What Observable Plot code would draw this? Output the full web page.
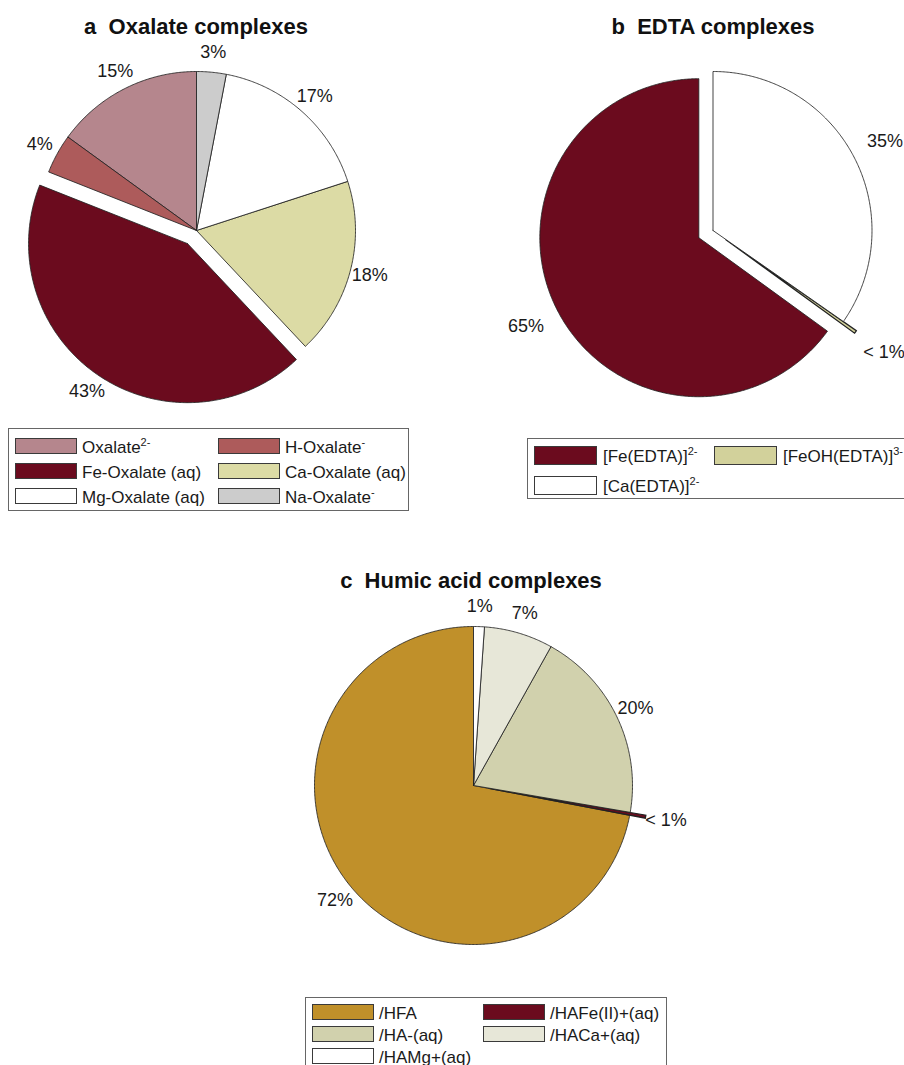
<!DOCTYPE html>
<html>
<head>
<meta charset="utf-8">
<script src="https://cdn.jsdelivr.net/npm/d3@7"></script>
<script src="https://cdn.jsdelivr.net/npm/@observablehq/plot@0.6"></script>
<style>
html, body { margin: 0; padding: 0; background: #fff; overflow: hidden; }
#page { position: relative; width: 904px; height: 1065px; overflow: hidden; background: #fff;
  font-family: "Liberation Sans", Arial, Helvetica, sans-serif; color: #1a1a1a; }
.title { position: absolute; font-weight: bold; font-size: 22px; line-height: 24px; white-space: pre; transform: translateX(-50%); color: #111; }
.legend { position: absolute; border: 1px solid #666; background: #fff; box-sizing: border-box; }
.item { position: absolute; white-space: nowrap; font-size: 17px; line-height: 17px; color: #1a1a1a; }
.sw { position: absolute; border: 1px solid #3a3a3a; box-sizing: border-box; }
.lbl { position: absolute; transform: translateY(-50%); }
.lbl sup { font-size: 11px; line-height: 0; vertical-align: 7px; }
</style>
</head>
<body>
<div id="page"></div>
<script>
// ---------- DATA ----------
// a: Oxalate complexes (counter-clockwise from 12 o'clock)
const oxNames  = ["Oxalate", "H-Oxalate", "Fe-Oxalate (aq)", "Ca-Oxalate (aq)", "Mg-Oxalate (aq)", "Na-Oxalate"];
const oxSups   = ["2-", "-", "", "", "", "-"];
const oxValues = [15, 4, 43, 18, 17, 3];
const oxColors = ["#b5868d", "#ad5b5b", "#6b0b1e", "#dcdba5", "#ffffff", "#cccccc"];
const oxExplode = [0, 0, 1, 0, 0, 0];

// b: EDTA complexes
const edNames  = ["[Fe(EDTA)]", "[FeOH(EDTA)]", "[Ca(EDTA)]"];
const edSups   = ["2-", "3-", "2-"];
const edValues = [65, 0.3, 34.7];
const edColors = ["#6b0b1e", "#d2d19b", "#ffffff"];
const edExplode = [1, 1, 0];

// c: Humic acid complexes
const haNames  = ["/HFA", "/HAFe(II)+(aq)", "/HA-(aq)", "/HACa+(aq)", "/HAMg+(aq)"];
const haSups   = ["", "", "", "", ""];
const haValues = [72, 0.3, 19.6, 7, 1.1];
const haColors = ["#c0902a", "#6b0b1e", "#d1d1ad", "#e7e7d8", "#ffffff"];
const haExplode = [0, 1, 0, 0, 0];

const titles = ["a\u00a0\u00a0Oxalate complexes", "b\u00a0\u00a0EDTA complexes", "c\u00a0\u00a0Humic acid complexes"];

// ---------- HELPERS ----------
const page = document.getElementById("page");

function slicesOf(values, explode) {
  const total = d3.sum(values);
  let acc = 0;
  return values.map((v, i) => {
    const a0 = acc / total * 2 * Math.PI; acc += v;
    const a1 = acc / total * 2 * Math.PI;
    const mid = (a0 + a1) / 2;
    const off = explode[i] ? 0.1 : 0;
    const ox = -Math.sin(mid) * off, oy = Math.cos(mid) * off;
    const n = Math.max(2, Math.ceil((a1 - a0) / (Math.PI / 360)));
    const pts = [{x: ox, y: oy}];
    for (let k = 0; k <= n; k++) {
      const a = a0 + (a1 - a0) * k / n;
      pts.push({x: ox - Math.sin(a), y: oy + Math.cos(a)});
    }
    pts.push({x: ox, y: oy});
    return {i, v, pct: v / total * 100, mid, ox, oy, pts};
  });
}

function piePlot(values, colors, explode, cfg) {
  const sl = slicesOf(values, explode);
  const labels = sl.map(s => ({
    x: s.ox - Math.sin(s.mid) * cfg.labelK,
    y: s.oy + Math.cos(s.mid) * cfg.labelK,
    t: s.pct < 1 ? "< 1%" : Math.round(s.pct) + "%"
  }));
  const {cx, cy, r} = cfg;
  const svg = Plot.plot({
    width: cfg.width, height: cfg.height, margin: 0,
    x: {domain: [-1, 1], range: [cx - r, cx + r], axis: null},
    y: {domain: [-1, 1], range: [cy + r, cy - r], axis: null},
    style: {background: "transparent", overflow: "visible", fontFamily: "Liberation Sans, Arial, sans-serif"},
    marks: [
      ...sl.map(s => Plot.line(s.pts, {x: "x", y: "y", fill: colors[s.i], stroke: "#222", strokeWidth: s.pct < 1 ? 1.3 : 0.85, strokeLinejoin: "miter", strokeMiterlimit: 10})),
      Plot.text(labels, {x: "x", y: "y", text: "t", fontSize: 18, fill: "#1a1a1a"})
    ]
  });
  svg.style.position = "absolute";
  svg.style.left = cfg.left + "px";
  svg.style.top = cfg.top + "px";
  svg.style.maxWidth = "none";
  page.appendChild(svg);
}

function addTitle(text, cx, top) {
  const d = document.createElement("div");
  d.className = "title";
  d.textContent = text;
  d.style.left = cx + "px";
  d.style.top = top + "px";
  page.appendChild(d);
}

function addLegend(names, sups, colors, cfg) {
  const box = document.createElement("div");
  box.className = "legend";
  Object.assign(box.style, {left: cfg.left + "px", top: cfg.top + "px", width: cfg.width + "px", height: cfg.height + "px"});
  names.forEach((name, i) => {
    const col = i % 2, row = Math.floor(i / 2);
    const x = cfg.pad + col * cfg.colStep;
    const yc = cfg.row0 + row * cfg.rowStep;
    const sw = document.createElement("div");
    sw.className = "sw";
    Object.assign(sw.style, {left: x + "px", top: (yc - cfg.swH / 2) + "px", width: cfg.swW + "px", height: cfg.swH + "px", background: colors[i]});
    box.appendChild(sw);
    const lb = document.createElement("div");
    lb.className = "item lbl";
    lb.style.left = (x + cfg.swW + cfg.gap) + "px";
    lb.style.top = (yc + 1) + "px";
    lb.appendChild(document.createTextNode(name));
    if (sups[i]) { const s = document.createElement("sup"); s.textContent = sups[i]; lb.appendChild(s); }
    box.appendChild(lb);
  });
  page.appendChild(box);
}

// ---------- PANELS ----------
addTitle(titles[0], 196, 15);
addTitle(titles[1], 713, 15);
addTitle(titles[2], 471, 569);

piePlot(oxValues, oxColors, oxExplode, {left: 0, top: 40, width: 452, height: 385, cx: 196, cy: 190, r: 159, labelK: 1.125});
piePlot(edValues, edColors, edExplode, {left: 452, top: 40, width: 452, height: 395, cx: 260.5, cy: 190, r: 159, labelK: 1.22});
piePlot(haValues, haColors, haExplode, {left: 250, top: 595, width: 500, height: 395, cx: 223, cy: 190, r: 159, labelK: 1.13});

addLegend(oxNames, oxSups, oxColors, {left: 8, top: 428, width: 401, height: 83, pad: 6, colStep: 203, row0: 17, rowStep: 25, swW: 62, swH: 16, gap: 5});
addLegend(edNames, edSups, edColors, {left: 527, top: 438, width: 420, height: 61, pad: 6, colStep: 180, row0: 16, rowStep: 30, swW: 63, swH: 19, gap: 6});
addLegend(haNames, haSups, haColors, {left: 305, top: 997, width: 362, height: 90, pad: 6, colStep: 171, row0: 14, rowStep: 22, swW: 62, swH: 16, gap: 5});
</script>
</body>
</html>
